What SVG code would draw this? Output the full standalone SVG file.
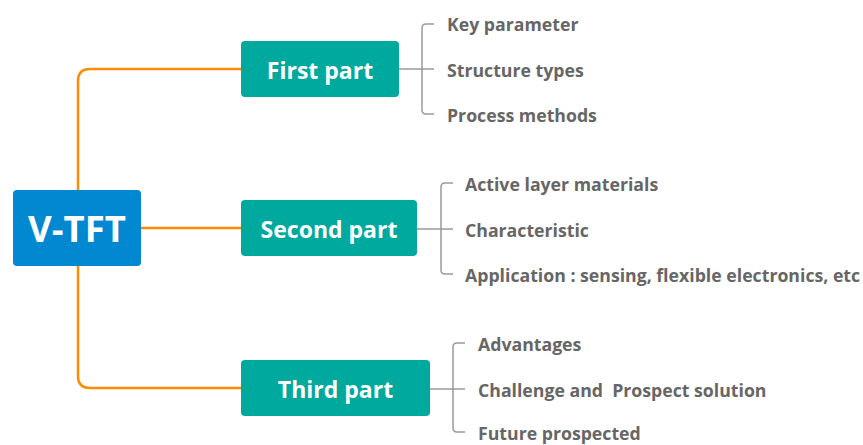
<svg xmlns="http://www.w3.org/2000/svg" width="863" height="445" viewBox="0 0 863 445">
<style>
.main{fill:#00a99d}
.mt{font-family:"Open Sans","Noto Sans",sans-serif;font-weight:700;fill:#fff;text-anchor:middle}
.leaf{font-family:"Open Sans","Noto Sans",sans-serif;font-weight:700;fill:#666;font-size:17.7px;white-space:pre}
.orange{fill:none;stroke:#ff8c00;stroke-width:2.5}
.grey{fill:none;stroke:#9a9a9a;stroke-width:1.5}
</style>
<rect width="863" height="445" fill="#fff"/>
<g id="connectors">
<path class="orange" d="M241 69 H90 Q78 69 78 81 V376 Q78 388 90 388 H241"/>
<path class="orange" d="M141 228 H241"/>
<path class="grey" d="M399 69 H434 M434 24 H426 Q422 24 422 28 V110 Q422 114 426 114 H434"/>
<path class="grey" d="M417 229 H453 M453 183 H445 Q441 183 441 187 V270 Q441 274 445 274 H453"/>
<path class="grey" d="M430 389 H465 M465 343 H457 Q453 343 453 347 V428 Q453 432 457 432 H465"/>
</g>
<g id="root">
<rect x="13" y="190" width="128" height="76" rx="4" fill="#0288d1"/>
<text class="mt" x="77" y="242" font-size="36.5">V-TFT</text>
</g>
<g id="first">
<rect class="main" x="241" y="41" width="158" height="56" rx="4"/>
<text class="mt" x="320" y="79" font-size="23">First part</text>
</g>
<g id="second">
<rect class="main" x="241" y="200" width="176" height="56" rx="4"/>
<text class="mt" x="329" y="238" font-size="23">Second part</text>
</g>
<g id="third">
<rect class="main" x="241" y="360" width="189" height="56" rx="4"/>
<text class="mt" x="335.5" y="398" font-size="23">Third part</text>
</g>
<g id="leaf-first">
<text class="leaf" x="447" y="31">Key parameter</text>
<text class="leaf" x="447" y="77">Structure types</text>
<text class="leaf" x="447" y="122">Process methods</text>
</g>
<g id="leaf-second">
<text class="leaf" x="465" y="191">Active layer materials</text>
<text class="leaf" x="465" y="237">Characteristic</text>
<text class="leaf" x="465" y="282">Application : sensing, flexible electronics, etc</text>
</g>
<g id="leaf-third">
<text class="leaf" x="478" y="351">Advantages</text>
<text class="leaf" x="478" y="397" xml:space="preserve">Challenge and  Prospect solution</text>
<text class="leaf" x="478" y="440">Future prospected</text>
</g>
</svg>
